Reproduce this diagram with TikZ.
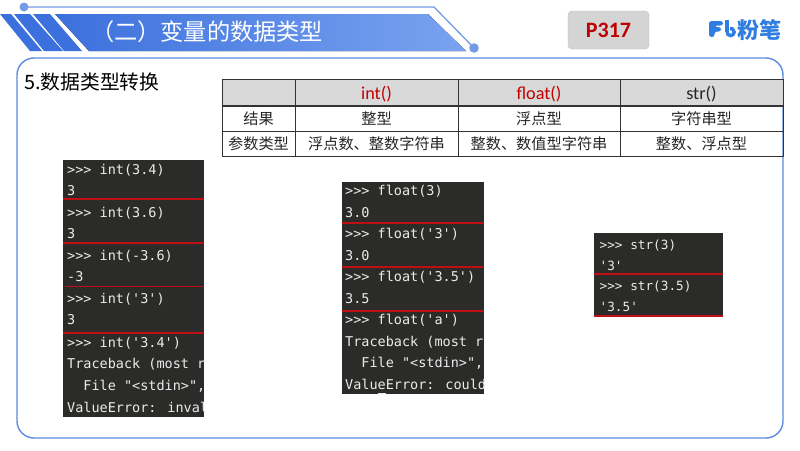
\documentclass[tikz,border=0pt]{standalone}
\usepackage{fontspec}
\setmainfont{Carlito}
\newfontfamily\cjk{Noto Sans CJK SC}
\newfontfamily\code{DejaVu Sans Mono}
\definecolor{panelblue}{HTML}{5B8BE0}
\definecolor{bannerL}{HTML}{3C70DC}
\definecolor{bannerR}{HTML}{7AA3F0}
\definecolor{termbg}{HTML}{2B2B29}
\definecolor{termred}{HTML}{C00F14}
\definecolor{headgray}{HTML}{D9D9D9}
\definecolor{tabred}{HTML}{C00000}
\definecolor{logoblue}{HTML}{2F7DE1}
\tikzset{
  x=1pt,y=-1pt,
  tl/.style={line width=1pt,draw=black!80},
  cellcjk/.style={font=\cjk\fontsize{15.2}{17}\selectfont,text=black!85,inner sep=0pt},
  cellfn/.style={font=\fontsize{18.2}{20}\selectfont,inner sep=0pt},
  term/.style={fill=termbg},
  tline/.style={anchor=base west,inner sep=0pt,text=white!92!black,font=\code\fontsize{13.5}{15}\selectfont},
  sline/.style={anchor=base west,inner sep=0pt,text=white!92!black,font=\code\fontsize{12.7}{15}\selectfont},
  rline/.style={line width=1.9pt,draw=termred},
  ring/.style={draw=panelblue,line width=1.4pt}
}
\begin{document}
\begin{tikzpicture}
\useasboundingbox (0,0) rectangle (800,450);
\fill[white] (0,0) rectangle (800,450);
% banner
\draw[panelblue!85!white,line width=1.3pt] (24,7) coordinate (d1) -- (434,7) -- (474,48) coordinate (d2);
\fill[panelblue!85!white] (d1) circle (4.5);
\fill[panelblue!85!white] (d2) circle (4.8);
\fill[left color=bannerL,right color=bannerR]
  (55,14) -- (428,14) -- (466,51) -- (89,51) -- cycle;
\fill[bannerL] (0,14) -- (11,14) -- (42,51) -- (30,51) -- cycle;
\fill[bannerL] (14,14) -- (30,14) -- (63,51) -- (44,51) -- cycle;
\fill[bannerL] (33,14) -- (50,14) -- (82,51) -- (64,51) -- cycle;
\node[anchor=center,inner sep=0pt,text=white,font=\cjk\fontsize{23.2}{25}\selectfont] (title) at (207,32) {（二）变量的数据类型};
% page tag
\node[draw=black!25,fill=black!17,rounded corners=4pt,minimum width=81pt,minimum height=38pt,inner sep=0pt,
  text=tabred,font=\bfseries\fontsize{22}{24}\selectfont] (tag) at (608.5,30) {P317};
% logo
\begin{scope}[logoblue]
\fill[rounded corners=2.5pt] (709,37) -- (709,21) -- (723,21) -- (723,25.5) -- (714.5,25.5) -- (714.5,27) -- (721,27) -- (721,31.5) -- (714.5,31.5) -- (714.5,37) -- cycle;
\draw[line width=3.4pt] (727,20) -- (727,32);
\draw[line width=3.4pt] (727,32) arc (180:-100:3.6);
\end{scope}
\node[inner sep=0pt,text=logoblue,font=\cjk\bfseries\fontsize{22}{24}\selectfont] (logo) at (759,30) {粉笔};
% panel
\draw[ring,rounded corners=17pt] (17,58) rectangle (783,438);
\node[anchor=west,inner sep=0pt,text=black,font=\cjk\fontsize{19.8}{22}\selectfont] (head) at (24,82) {5.数据类型转换};
% table
\fill[headgray] (222,79) rectangle (783,106);
\draw[tl] (222,79) rectangle (783,156);
\draw[tl,line width=1.5pt] (222,106) -- (783,106);
\draw[tl] (222,131) -- (783,131);
\foreach \xx in {295,458,620} \draw[tl] (\xx,79) -- (\xx,156);
\node[cellfn,text=tabred] (h1) at (376.5,94) {int()};
\node[cellfn,text=tabred] (h2) at (539,94) {float()};
\node[cellfn,text=black!85] (h3) at (701.5,94) {str()};
\node[cellcjk] (r1) at (258.5,118.5) {结果};
\node[cellcjk] (r1a) at (376.5,118.5) {整型};
\node[cellcjk] (r1b) at (539,118.5) {浮点型};
\node[cellcjk] (r1c) at (701.5,118.5) {字符串型};
\node[cellcjk] (r2) at (258.5,143.5) {参数类型};
\node[cellcjk] (r2a) at (376.5,143.5) {浮点数、整数字符串};
\node[cellcjk] (r2b) at (539,143.5) {整数、数值型字符串};
\node[cellcjk] (r2c) at (701.5,143.5) {整数、浮点型};
% left terminal
\fill[term] (63,160) rectangle (204,417);
\begin{scope}
\clip (63,160) rectangle (204,417);
\node[tline] (a1) at (67,174) {>{}>{}> int(3.4)};
\node[tline] (a2) at (67,195) {3};
\node[tline] (a3) at (67,217) {>{}>{}> int(3.6)};
\node[tline] (a4) at (67,238) {3};
\node[tline] (a5) at (67,260) {>{}>{}> int(-3.6)};
\node[tline] (a6) at (67,281) {-3};
\node[tline] (a7) at (67,303) {>{}>{}> int('3')};
\node[tline] (a8) at (67,324) {3};
\node[tline] (a9) at (67,347) {>{}>{}> int('3.4')};
\node[tline] (a10) at (67,368) {Traceback (most r};
\node[tline] (a11) at (67,390) {\ \ File "<stdin>",};
\node[tline] (a12) at (67,412) {ValueError: inval};
\end{scope}
\draw[rline] (63,199) -- (204,199);
\draw[rline] (63,243) -- (204,243);
\draw[rline] (65,286.5) -- (204,286.5);
\draw[rline] (63,333) -- (204,333);
% middle terminal
\fill[term] (342,182) rectangle (484,394);
\begin{scope}
\clip (342,182) rectangle (484,394);
\node[tline] (b1) at (345,195) {>{}>{}> float(3)};
\node[tline] (b2) at (345,217) {3.0};
\node[tline] (b3) at (345,238) {>{}>{}> float('3')};
\node[tline] (b4) at (345,260) {3.0};
\node[tline] (b5) at (345,281) {>{}>{}> float('3.5')};
\node[tline] (b6) at (345,303) {3.5};
\node[tline] (b7) at (345,324) {>{}>{}> float('a')};
\node[tline] (b8) at (345,346) {Traceback (most r};
\node[tline] (b9) at (345,367) {\ \ File "<stdin>",};
\node[tline] (b10) at (345,389) {ValueError: could};
\fill[white!90!black] (378,393) rectangle (386,394);
\end{scope}
\draw[rline] (342,223) -- (484,223);
\draw[rline] (342,267) -- (484,267);
\draw[rline] (342,311) -- (484,311);
% right terminal
\fill[term] (594,233) rectangle (723,317);
\node[sline] (c1) at (599.5,249) {>{}>{}> str(3)};
\node[sline] (c2) at (599.5,270) {'3'};
\node[sline] (c3) at (599.5,290) {>{}>{}> str(3.5)};
\node[sline] (c4) at (599.5,311) {'3.5'};
\draw[rline] (594,274) -- (723,274);
\draw[rline] (594,316) -- (723,316);
\end{tikzpicture}
\end{document}
